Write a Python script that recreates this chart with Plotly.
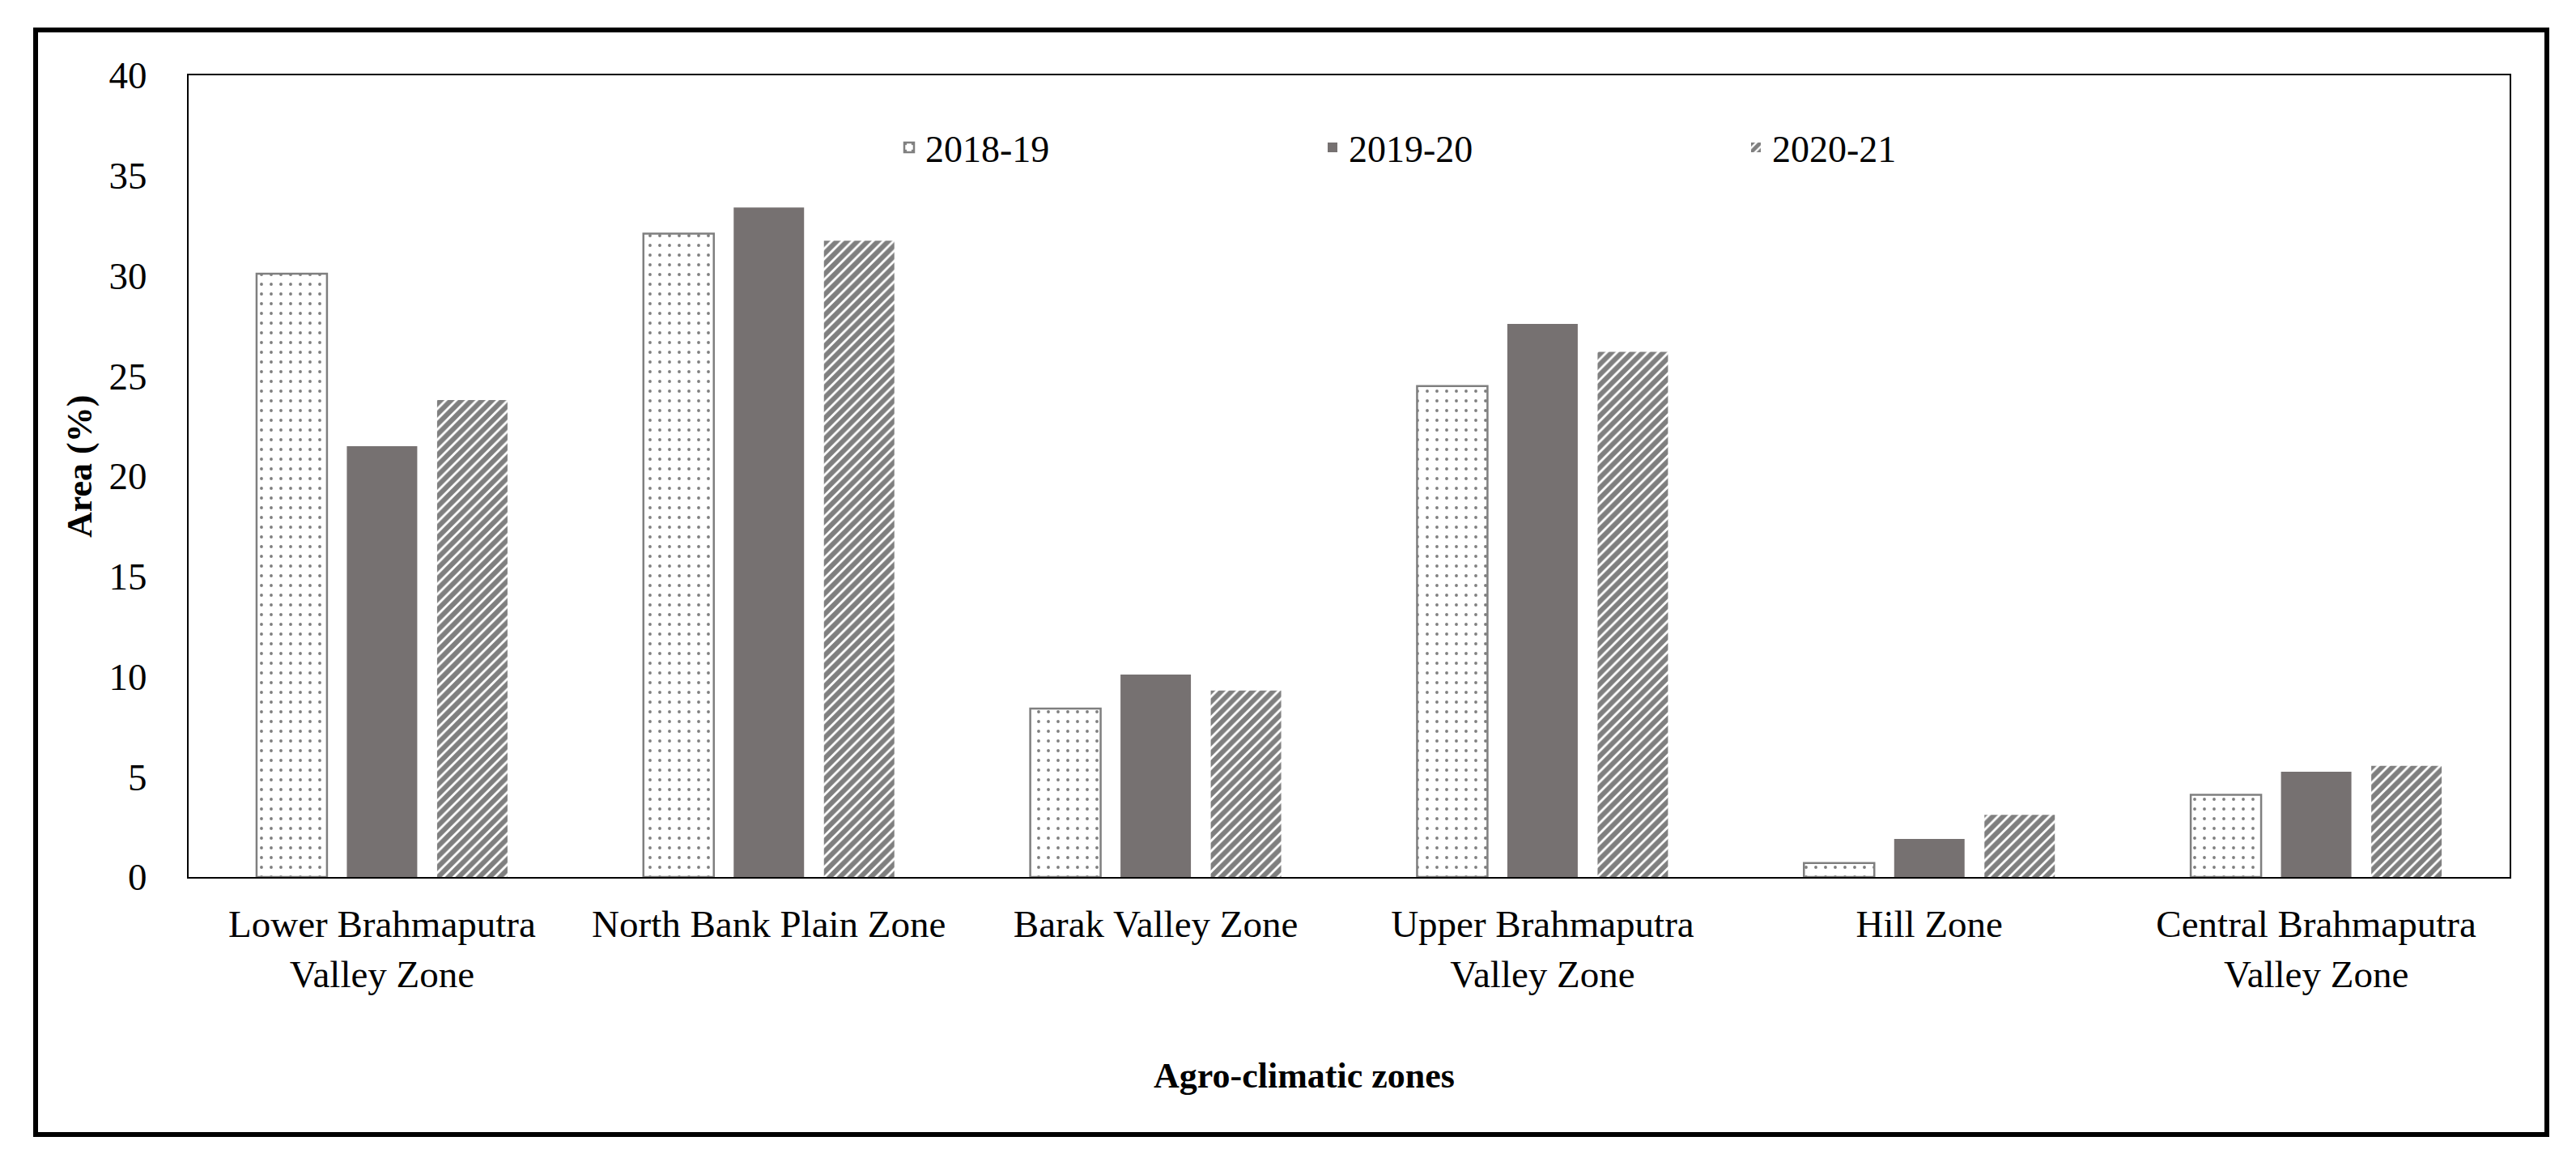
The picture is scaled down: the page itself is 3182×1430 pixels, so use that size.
import plotly.graph_objects as go

categories = [
    "Lower Brahmaputra<br>Valley Zone",
    "North Bank Plain Zone",
    "Barak Valley Zone",
    "Upper Brahmaputra<br>Valley Zone",
    "Hill Zone",
    "Central Brahmaputra<br>Valley Zone",
]
series_names = ["2018-19", "2019-20", "2020-21"]
values_2018_19 = [30.1, 32.1, 8.4, 24.5, 0.7, 4.1]
values_2019_20 = [21.5, 33.4, 10.1, 27.6, 1.9, 5.25]
values_2020_21 = [23.8, 31.75, 9.3, 26.2, 3.1, 5.55]
y_ticks = [0, 5, 10, 15, 20, 25, 30, 35, 40]

FONT = "Palatino Linotype, Book Antiqua, Liberation Serif, serif"
W, H = 3182, 1430
ML, MR, MT, MB = 225, 90, 85, 355
PW = W - ML - MR
PH = H - MT - MB

def px_x(x):
    return (x - ML) / PW

def px_y(y):
    return (H - MB - y) / PH

fig = go.Figure()
fig.add_trace(go.Bar(
    name=series_names[0], x=categories, y=values_2018_19,
    marker=dict(color="white", line=dict(color="#7f7f7f", width=2.5),
                pattern=dict(shape=".", fgcolor="black", bgcolor="white",
                             size=12, solidity=0.08, fillmode="overlay")),
))
fig.add_trace(go.Bar(
    name=series_names[1], x=categories, y=values_2019_20,
    marker=dict(color="#767171", line=dict(width=0)),
))
fig.add_trace(go.Bar(
    name=series_names[2], x=categories, y=values_2020_21,
    marker=dict(color="white", line=dict(width=0),
                pattern=dict(shape="/", fgcolor="black", bgcolor="white",
                             size=9, solidity=0.68, fillmode="overlay")),
))

fig.update_layout(
    width=W, height=H,
    margin=dict(l=ML, r=MR, t=MT, b=MB, autoexpand=False),
    paper_bgcolor="white", plot_bgcolor="white",
    font=dict(family=FONT, size=47, color="black"),
    barmode="group", bargap=0.3, bargroupgap=0.22,
    showlegend=True,
    legend=dict(
        orientation="h", x=px_x(1095), xanchor="left",
        y=px_y(174), yanchor="middle",
        entrywidth=478, entrywidthmode="pixels",
        font=dict(family=FONT, size=46, color="black"),
        bgcolor="rgba(0,0,0,0)", traceorder="normal",
    ),
    xaxis=dict(
        showline=True, linecolor="black", linewidth=2, mirror=True,
        ticks="", showgrid=False, tickfont=dict(size=47),
        ticklabelstandoff=16,
    ),
    yaxis=dict(
        range=[0, 40], tickvals=y_ticks, showline=True, linecolor="black",
        linewidth=2, mirror=True, ticks="", showgrid=False, zeroline=False,
        tickfont=dict(size=47), ticklabelstandoff=40,
    ),
    annotations=[
        dict(text="<b>Area (%)</b>", textangle=-90, xref="paper", yref="paper",
             x=px_x(90), y=px_y(568), xanchor="center", yanchor="middle",
             showarrow=False, font=dict(family=FONT, size=44)),
        dict(text="<b>Agro-climatic zones</b>", xref="paper", yref="paper",
             x=px_x(1603), y=px_y(1320), xanchor="center", yanchor="middle",
             showarrow=False, font=dict(family=FONT, size=44)),
    ],
    shapes=[
        dict(type="rect", xref="paper", yref="paper",
             x0=px_x(36), x1=px_x(3138), y0=px_y(1393), y1=px_y(29),
             line=dict(color="black", width=6), fillcolor="rgba(0,0,0,0)",
             layer="above"),
    ],
)

fig.write_html("out.html")
